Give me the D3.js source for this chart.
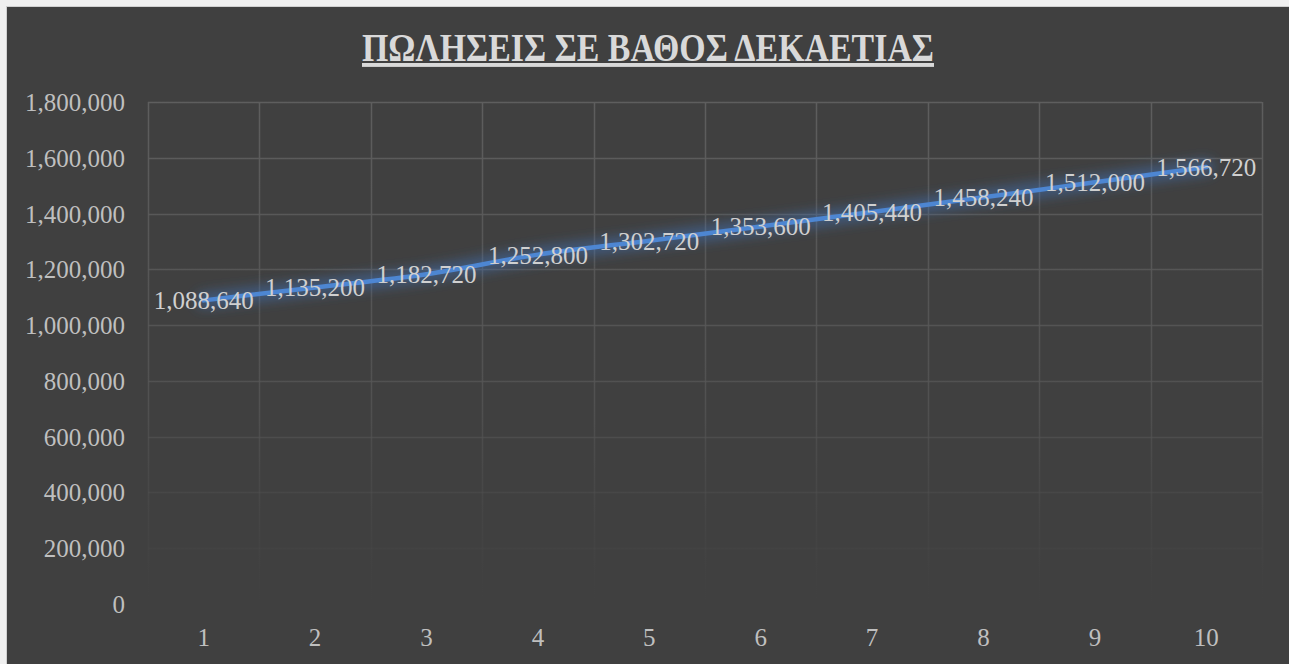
<!DOCTYPE html>
<html>
<head>
<meta charset="utf-8">
<script src="https://cdn.jsdelivr.net/npm/d3@7"></script>
<style>
  html, body { margin: 0; padding: 0; background: #f0f0f0; overflow: hidden; }
  svg { display: block; }
</style>
</head>
<body>
<div id="vis"></div>
<script>
// chart data
const years = ["1", "2", "3", "4", "5", "6", "7", "8", "9", "10"];
const sales = [1088640, 1135200, 1182720, 1252800, 1302720, 1353600, 1405440, 1458240, 1512000, 1566720];
const yTicks = [0, 200000, 400000, 600000, 800000, 1000000, 1200000, 1400000, 1600000, 1800000];
const title = "ΠΩΛΗΣΕΙΣ ΣΕ ΒΑΘΟΣ ΔΕΚΑΕΤΙΑΣ";

const width = 1289, height = 664;
const margin = { top: 102, right: 27, bottom: 60, left: 148 };
const font = "'Liberation Serif', serif";

const svg = d3.select("#vis").append("svg")
  .attr("width", width)
  .attr("height", height);

// chart area background
svg.append("rect")
  .attr("x", 6.5).attr("y", 6.5)
  .attr("width", width).attr("height", height)
  .attr("fill", "#404040")
  .attr("stroke", "#d0d0d0");

const defs = svg.append("defs");

// gridlines fade out toward the bottom
const grad = defs.append("linearGradient")
  .attr("id", "gridFade")
  .attr("gradientUnits", "userSpaceOnUse")
  .attr("x1", 0).attr("x2", 0)
  .attr("y1", margin.top).attr("y2", height - margin.bottom);
grad.append("stop").attr("offset", "0%").attr("stop-color", "#5e5e5e").attr("stop-opacity", 1);
grad.append("stop").attr("offset", "60%").attr("stop-color", "#555555").attr("stop-opacity", 0.8);
grad.append("stop").attr("offset", "100%").attr("stop-color", "#4a4a4a").attr("stop-opacity", 0);

// glow under the line
const glow = defs.append("filter")
  .attr("id", "glow")
  .attr("x", "-10%").attr("y", "-50%")
  .attr("width", "120%").attr("height", "200%");
glow.append("feGaussianBlur")
  .attr("in", "SourceGraphic")
  .attr("stdDeviation", 6)
  .attr("result", "blur");

////////////// Scales //////////////

const x = d3.scaleBand()
  .domain(years)
  .range([margin.left, width - margin.right]);

const y = d3.scaleLinear()
  .domain([0, 1800000])
  .range([height - margin.bottom, margin.top]);

const fmt = d3.format(",");

////////////// Grid //////////////

svg.append("g")
  .selectAll("line")
  .data(yTicks)
  .join("line")
  .attr("x1", margin.left)
  .attr("x2", width - margin.right)
  .attr("y1", d => Math.round(y(d)) + 0.5)
  .attr("y2", d => Math.round(y(d)) + 0.5)
  .attr("stroke", "url(#gridFade)")
  .attr("stroke-width", 1.5);

const vLines = years.map(d => x(d)).concat([x.range()[1]]);
svg.append("g")
  .selectAll("line")
  .data(vLines)
  .join("line")
  .attr("x1", d => Math.round(d) + 0.5)
  .attr("x2", d => Math.round(d) + 0.5)
  .attr("y1", margin.top)
  .attr("y2", height - margin.bottom)
  .attr("stroke", "url(#gridFade)")
  .attr("stroke-width", 1.5);

////////////// Axes labels //////////////

svg.append("g")
  .selectAll("text")
  .data(yTicks)
  .join("text")
  .attr("x", 125)
  .attr("y", d => y(d) + 9)
  .attr("text-anchor", "end")
  .attr("font-family", font)
  .attr("font-size", 25)
  .attr("fill", "#bfbfbf")
  .text(d => fmt(d));

svg.append("g")
  .selectAll("text")
  .data(years)
  .join("text")
  .attr("x", d => x(d) + x.bandwidth() / 2)
  .attr("y", 646)
  .attr("text-anchor", "middle")
  .attr("font-family", font)
  .attr("font-size", 25)
  .attr("fill", "#bfbfbf")
  .text(d => d);

////////////// Line //////////////

const points = years.map((d, i) => ({ year: d, value: sales[i] }));

const line = d3.line()
  .x(d => x(d.year) + x.bandwidth() / 2)
  .y(d => y(d.value))
  .curve(d3.curveMonotoneX);

svg.append("path")
  .datum(points)
  .attr("d", line)
  .attr("fill", "none")
  .attr("stroke", "#3f78c4")
  .attr("stroke-opacity", 0.45)
  .attr("stroke-width", 16)
  .attr("stroke-linecap", "round")
  .style("filter", "url(#glow)");

svg.append("path")
  .datum(points)
  .attr("d", line)
  .attr("fill", "none")
  .attr("stroke", "#4d86d2")
  .attr("stroke-width", 4.5)
  .attr("stroke-linecap", "round");

////////////// Data labels //////////////

svg.append("g")
  .selectAll("text")
  .data(points)
  .join("text")
  .attr("x", d => x(d.year) + x.bandwidth() / 2)
  .attr("y", d => y(d.value) + 9)
  .attr("text-anchor", "middle")
  .attr("font-family", font)
  .attr("font-size", 25)
  .attr("fill", "#d0d0d0")
  .text(d => fmt(d.value));

////////////// Title //////////////

svg.append("text")
  .attr("x", 648)
  .attr("y", 61)
  .attr("text-anchor", "middle")
  .attr("font-family", font)
  .attr("font-weight", "bold")
  .attr("font-size", 39)
  .attr("textLength", 572)
  .attr("lengthAdjust", "spacingAndGlyphs")
  .attr("fill", "#d9d9d9")
  .attr("text-decoration", "underline")
  .text(title);
</script>
</body>
</html>
